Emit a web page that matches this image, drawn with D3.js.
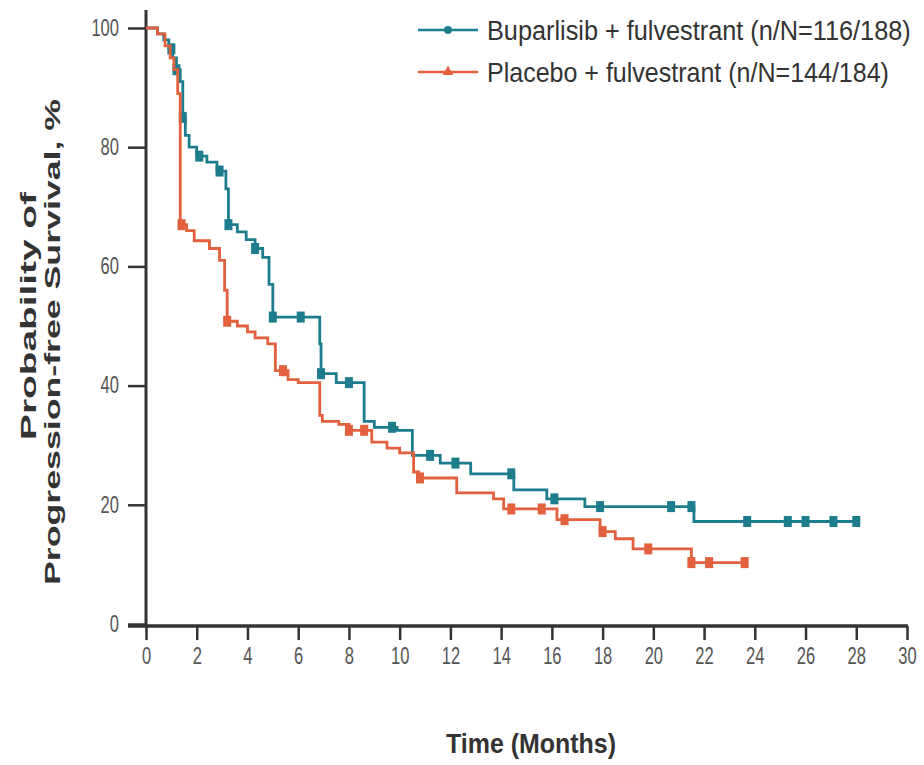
<!DOCTYPE html>
<html>
<head>
<meta charset="utf-8">
<script src="https://cdn.jsdelivr.net/npm/d3@7/dist/d3.min.js"></script>
<style>
  body { margin: 0; background: #fff; }
  svg { display: block; }
</style>
</head>
<body>
<div id="chart"></div>
<script>
// tick labels
var xTicks = [0, 2, 4, 6, 8, 10, 12, 14, 16, 18, 20, 22, 24, 26, 28, 30];
var yTicks = [0, 20, 40, 60, 80, 100];

// Buparlisib + fulvestrant (step curve, months / %)
var bupTime = [0, 0.45, 0.7, 0.9, 1.05, 1.2, 1.35, 1.45, 1.55, 1.7, 2.0, 2.4, 2.8, 3.15, 3.25, 3.6, 3.95, 4.3, 4.6, 4.85, 5.0, 6.85, 6.9, 7.5, 8.6, 9.0, 9.9, 10.5, 11.6, 12.8, 14.5, 15.8, 17.3, 21.6, 28.0];
var bupSurv = [100, 99, 98, 96.5, 95, 93, 91, 85, 82, 80, 78.5, 77.5, 76, 73, 67, 65.8, 64.5, 63, 61.5, 57, 51.5, 47, 42, 40.5, 34, 33, 32.5, 28.3, 27, 25.2, 22.5, 21, 19.7, 17.2, 17.2];
var bupCensor = [1.0, 1.2, 1.45, 2.1, 2.9, 3.25, 4.3, 5.0, 6.1, 6.9, 8.0, 9.7, 11.2, 12.2, 14.4, 16.1, 17.9, 20.7, 21.5, 23.7, 25.3, 26.0, 27.1, 28.0];

// Placebo + fulvestrant
var plaTime = [0, 0.45, 0.75, 0.95, 1.1, 1.25, 1.35, 1.6, 1.9, 2.5, 2.9, 3.1, 3.2, 3.6, 4.0, 4.3, 4.8, 5.1, 5.6, 6.0, 6.85, 6.95, 7.6, 8.0, 8.9, 9.5, 10.0, 10.55, 10.75, 12.25, 13.7, 14.1, 16.2, 17.9, 18.5, 19.2, 21.5, 23.7];
var plaSurv = [100, 99, 97, 95, 93, 89, 67, 66, 64.3, 63, 61, 56, 50.8, 50, 49, 48, 47, 42.5, 41, 40.5, 35, 34, 33.5, 32.5, 30.5, 29.5, 28.7, 25.5, 24.5, 22, 21, 19.3, 17.5, 15.5, 14.3, 12.6, 10.3, 10.3];
var plaCensor = [1.4, 3.2, 5.4, 8.0, 8.6, 10.8, 14.4, 15.6, 16.5, 18.0, 19.8, 21.5, 22.2, 23.6];

var series = [
  { name: 'Buparlisib + fulvestrant (n/N=116/188)', time: bupTime, surv: bupSurv, censor: bupCensor, color: '#1d7d8d', len: 424 },
  { name: 'Placebo + fulvestrant (n/N=144/184)', time: plaTime, surv: plaSurv, censor: plaCensor, color: '#e2603d', len: 402 }
];

var width = 924, height = 765;
var svg = d3.select('#chart').append('svg')
  .attr('width', width)
  .attr('height', height);

var x = d3.scaleLinear().domain([0, 30]).range([146, 907]);
var y = d3.scaleLinear().domain([0, 100]).range([624, 28]);

var sans = '"Liberation Sans", Arial, sans-serif';

// squeeze a text horizontally around its anchor, the picture's lettering is narrow
function squeeze(node, k) {
  var t = d3.select(node);
  var ax = +t.attr('x') || 0, ay = +t.attr('y') || 0;
  var old = t.attr('transform') || '';
  t.attr('transform', old + ' translate(' + ax + ',' + ay + ') scale(' + k + ',1) translate(' + (-ax) + ',' + (-ay) + ')');
}

// y axis
var yAxis = svg.append('g')
  .attr('transform', 'translate(146,0)')
  .call(d3.axisLeft(y).tickValues(yTicks).tickSize(18).tickPadding(9));
yAxis.select('.domain').remove();
svg.append('line')
  .attr('x1', 146).attr('x2', 146)
  .attr('y1', 10).attr('y2', 626)
  .attr('stroke', '#333').attr('stroke-width', 3);

// x axis
var xAxis = svg.append('g')
  .attr('transform', 'translate(0,626)')
  .call(d3.axisBottom(x).tickValues(xTicks).tickSize(14).tickPadding(8));
xAxis.select('.domain').remove();
svg.append('line')
  .attr('x1', 128).attr('x2', 908)
  .attr('y1', 626).attr('y2', 626)
  .attr('stroke', '#333').attr('stroke-width', 3.5);

svg.selectAll('.tick line').attr('stroke', '#333').attr('stroke-width', 2.5);
svg.selectAll('.tick text')
  .attr('fill', '#555')
  .style('font-family', sans)
  .style('font-size', '23px')
  .each(function () { squeeze(this, 0.72); });

// axis titles
svg.append('text')
  .attr('x', 531).attr('y', 753)
  .attr('text-anchor', 'middle')
  .style('font-family', sans)
  .style('font-weight', 'bold')
  .style('font-size', '27px')
  .attr('fill', '#333')
  .text('Time (Months)')
  .each(function () { squeeze(this, 170 / this.getComputedTextLength()); });

var yTitle = svg.append('g').attr('fill', '#333')
  .style('font-family', sans)
  .style('font-weight', 'bold')
  .style('font-size', '22px');
yTitle.append('text')
  .attr('transform', 'translate(36,316) rotate(-90)')
  .attr('text-anchor', 'middle')
  .attr('textLength', 248).attr('lengthAdjust', 'spacingAndGlyphs')
  .text('Probability of');
yTitle.append('text')
  .attr('transform', 'translate(60,342) rotate(-90)')
  .attr('text-anchor', 'middle')
  .attr('textLength', 486).attr('lengthAdjust', 'spacingAndGlyphs')
  .text('Progression-free Survival, %');

// curves
var line = d3.line()
  .x(function (d) { return x(d[0]); })
  .y(function (d) { return y(d[1]); })
  .curve(d3.curveStepAfter);

function survAt(s, t) {
  var i = d3.bisectRight(s.time, t) - 1;
  return s.surv[Math.max(0, i)];
}

series.forEach(function (s) {
  var pts = s.time.map(function (t, i) { return [t, s.surv[i]]; });
  svg.append('path')
    .datum(pts)
    .attr('fill', 'none')
    .attr('stroke', s.color)
    .attr('stroke-width', 2.8)
    .attr('d', line);

  svg.append('g').selectAll('rect')
    .data(s.censor)
    .enter().append('rect')
    .attr('x', function (t) { return x(t) - 4; })
    .attr('y', function (t) { return y(survAt(s, t)) - 5.5; })
    .attr('width', 8)
    .attr('height', 11)
    .attr('fill', s.color);
});

// legend
var legend = svg.append('g');
series.forEach(function (s, i) {
  var ly = 30 + i * 42;
  legend.append('line')
    .attr('x1', 418).attr('x2', 478)
    .attr('y1', ly).attr('y2', ly)
    .attr('stroke', s.color).attr('stroke-width', 2.6);
  legend.append('path')
    .attr('transform', 'translate(448,' + ly + ')')
    .attr('d', d3.symbol().type(i === 0 ? d3.symbolCircle : d3.symbolTriangle).size(50)())
    .attr('fill', s.color);
  legend.append('text')
    .attr('x', 487).attr('y', ly + 10)
    .style('font-family', sans)
    .style('font-size', '28px')
    .attr('fill', '#333')
    .text(s.name)
    .each(function () { squeeze(this, s.len / this.getComputedTextLength()); });
});
</script>
</body>
</html>
